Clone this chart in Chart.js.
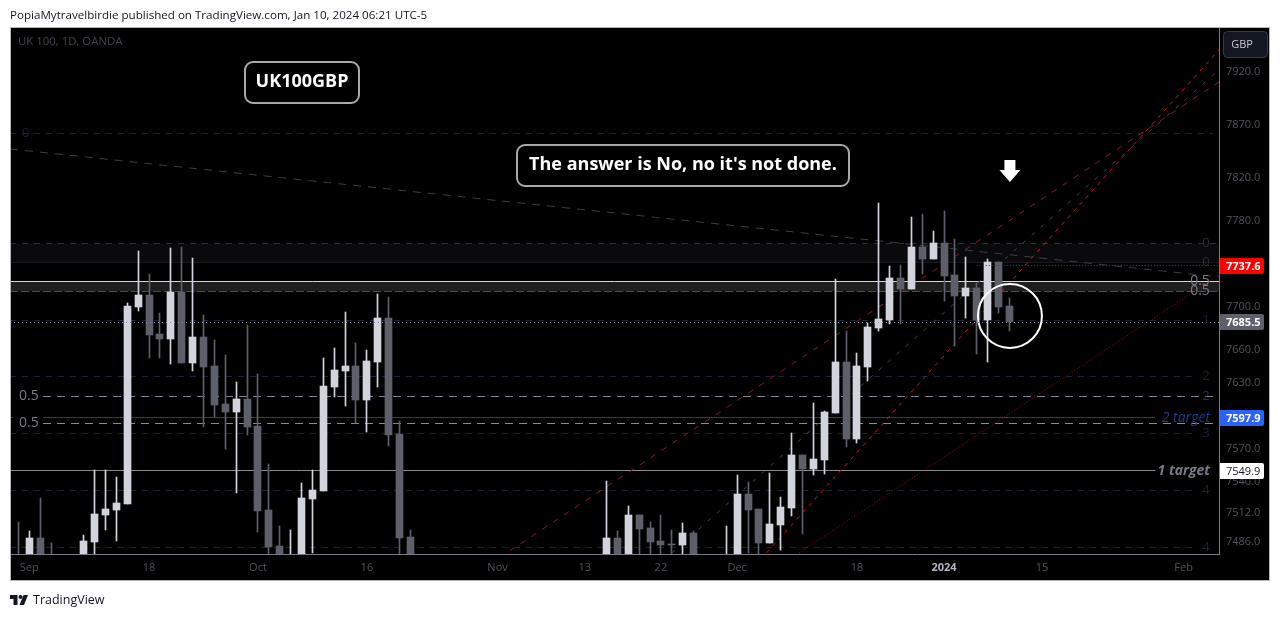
<!DOCTYPE html>
<html>
<head>
<meta charset="utf-8">
<title>UK100GBP</title>
<script src="https://cdn.jsdelivr.net/npm/chart.js@4/dist/chart.umd.js"></script>
<style>
  html, body { margin: 0; padding: 0; background: #fff; width: 1281px; height: 617px; overflow: hidden; }
  #myChart { position: absolute; left: 0; top: 0; }
  .kop { position: absolute; left: 10px; top: 7px; font: 11.6px "Open Sans", sans-serif; color: #131722; white-space: nowrap; }
  .voet { position: absolute; left: 10px; top: 591px; font: 12.5px "Open Sans", sans-serif; color: #131722; display: flex; align-items: center; gap: 5px; }
</style>
</head>
<body>
<canvas id="myChart" width="1281" height="617" style="width:1281px;height:617px"></canvas>
<div class="kop">PopiaMytravelbirdie published on TradingView.com, Jan 10, 2024 06:21 UTC-5</div>
<div class="voet">
  <svg width="18" height="10" viewBox="0 0 36 20"><path d="M0 0h15v20H7V8H0z M27 0h9l-8 20h-9z" fill="#131722"/><circle cx="21" cy="4" r="4" fill="#131722"/></svg>
  <span>TradingView</span>
</div>
<script>
// candles: only the days that are visible above the bottom of the chart
const dagen = [0,1,2,3,6,7,8,9,10,11,12,13,14,15,16,17,18,19,20,21,22,23,24,25,26,27,28,29,30,31,32,33,34,35,36,
  54,55,56,57,58,59,60,61,62,65,66,67,68,69,70,71,72,73,74,75,76,77,78,79,80,81,82,83,84,85,86,87,88,89,90,91];
const open = [7465,7465,7488.5,7465,7465,7485.2,7509.4,7513.9,7519.4,7699.1,7710.2,7674.2,7669.6,7712.9,7647.5,7671.4,7644.8,7610,7602.7,7614.6,7590,7513.9,7481.6,7460,7465,7523.9,7531.1,7625.6,7640.2,7644.8,7613.7,7648.5,7688.9,7582.7,7489.7,
  7465,7488.8,7465,7509.4,7497.8,7486.1,7483.4,7482.5,7493.2,7460,7465,7528.3,7514.8,7484.3,7500.5,7515.7,7563.6,7550.9,7559.1,7601.8,7648.5,7578.2,7643.9,7679.7,7687.1,7725.9,7715.7,7754.7,7743.5,7758.4,7728.7,7709.2,7716.6,7687.1,7740.7,7700];
const hoog = [7503.1,7495.1,7524.8,7484.3,7491.4,7550,7550,7543.7,7702.8,7751,7729.6,7693.5,7753.8,7754.7,7744.4,7691.7,7668.7,7654.9,7630.1,7682.5,7637.5,7555.5,7499.6,7496,7538.3,7550,7652.1,7661.3,7694.5,7665.9,7659.5,7711.1,7708.3,7594.5,7496,
  7540.1,7495.1,7517.5,7509.4,7503.1,7509.4,7496,7502.2,7495.1,7499.6,7545.5,7539.2,7514.8,7547.3,7525.6,7583.6,7563.6,7611,7603.6,7725,7676.9,7656.7,7684.3,7795.7,7737,7737.9,7782.6,7785.4,7769.6,7788.2,7762.1,7745.4,7721.3,7743.5,7740.7,7707.4];
const laag = [7455,7455,7455,7455,7455,7455,7496,7486.1,7519.4,7695.4,7652.1,7652.1,7646.6,7647.5,7640.2,7589.1,7598.2,7569,7529.3,7581.8,7494.2,7455,7455,7455,7455,7475.3,7531.1,7616.4,7608.2,7592.7,7584.5,7625.6,7571.8,7455,7455,
  7455,7455,7455,7455,7455,7455,7455,7455,7455,7455,7455,7475.3,7455,7484.3,7478,7508.5,7492.3,7545.5,7546.4,7601.8,7570.9,7574.5,7631,7676.9,7683.4,7683.4,7715.7,7729.6,7743.5,7704.6,7663.2,7688.9,7655.8,7648.5,7693.5,7676.9];
const slot = [7460,7488.5,7465,7460,7486.1,7510.3,7514.8,7520.3,7700,7710.2,7673.3,7669.6,7712.9,7647.5,7671.4,7643.9,7609.1,7602.7,7614.6,7589.1,7513,7480.7,7465,7465,7524.8,7532,7626.5,7641.1,7644.8,7613.7,7649.4,7688.9,7581.8,7488.8,7465,
  7488.8,7465,7509.4,7496.9,7485.2,7482.5,7482.8,7493.2,7465,7465,7528.3,7513.9,7484.3,7501.3,7516.6,7563.6,7550.9,7560,7602.7,7648.5,7578.2,7644.8,7680.6,7688,7725.9,7715.7,7754.7,7743.5,7758.4,7727.8,7709.2,7716.6,7687.1,7740.7,7699.1,7685.5];

// axes
const prijsTicks = [7486,7512,7540,7570,7630,7660,7700,7780,7820,7870,7920];
const tijdTicks = [1,12,22,32,44,52,59,66,77,85,94,107];
const tijdLabels = ["Sep","18","Oct","16","Nov","13","22","Dec","18","2024","15","Feb"];

// horizontal levels
const fibDonker = [7861.4,7687,7635.6,7583.6,7532,7480.7];
const fibDonkerLabels = ["0","1","2","3","4","4"];
const fibGrijs = [7617.3,7592.7];
const bandDonker = [7758.4,7740.7];
const bandLicht = [7723,7713.9];
const prijsNu = 7685.5;
const prijsRood = 7737.6;
const doelBlauw = 7597.9;
const doelWit = 7549.9;

// trend lines: [day, price] at both ends
const lijnRoodDonker = [[45.1,7477],[110.25,7909.6]];
const lijnRoodFel = [[68.7,7475.3],[110.25,7940]];
const lijnGrijs = [[60,7475.3],[110.25,7921]];
const lijnStip = [[71.7,7475.3],[110.25,7728.7]];
const lijnDalend = [[-0.77,7846.3],[110.25,7726.8]];
const cirkel = [91.05,7690.8];
const pijl = [91.05,7826.6];

const xMin = -0.772, xMax = 110.25;
const wit = "#d1d4dc", grijs = "#5d606b";

function horizontaal(prijs, van, tot, stijl) {
  return Object.assign({
    type: "line", data: [{x: van, y: prijs}, {x: tot, y: prijs}], pointRadius: 0,
    borderWidth: 1, order: 5, snap: true, fill: false
  }, stijl);
}
function schuin(punten, stijl) {
  return Object.assign({
    type: "line", data: punten.map(p => ({x: p[0], y: p[1]})), pointRadius: 0,
    borderWidth: 1, order: 4, fill: false
  }, stijl);
}

const kleuren = dagen.map((d, i) => slot[i] >= open[i] ? wit : grijs);

const datasets = [
  // wicks and bodies
  {data: dagen.map((d, i) => ({x: d, y: [laag[i], hoog[i]]})), backgroundColor: kleuren, barThickness: 1, grouped: false, order: 2, snapBar: true},
  {data: dagen.map((d, i) => ({x: d, y: [open[i], slot[i]]})), backgroundColor: kleuren, barThickness: 7, grouped: false, order: 1, snapBar: true},
  // bands
  horizontaal(bandDonker[0], xMin, xMax, {borderColor: "#2a2e39", borderDash: [6, 6], fill: "+1", backgroundColor: "#0a0a0c"}),
  horizontaal(bandDonker[1], xMin, xMax, {borderColor: "#262933"}),
  horizontaal(bandLicht[0], xMin, xMax, {borderColor: "#d1d4dc", fill: "+1", backgroundColor: "#1e1e1e"}),
  horizontaal(bandLicht[1], xMin, xMax, {borderColor: "#787b86", borderDash: [8, 3]}),
  // levels
  horizontaal(fibGrijs[0], 2.26, 109.7, {borderColor: "#7d8299", borderDash: [8, 6]}),
  horizontaal(fibGrijs[1], 2.26, 109.7, {borderColor: "#8a8a8a", borderDash: [8, 6]}),
  horizontaal(doelBlauw, xMin, 104.4, {borderColor: "#1e3a8a"}),
  horizontaal(doelWit, xMin, 104.4, {borderColor: "#8a8a8a"}),
  horizontaal(prijsRood, 88, xMax, {borderColor: "#ff0000", borderDash: [1, 2], order: 0}),
  horizontaal(prijsNu, xMin, xMax, {borderColor: "#8a8d96", borderDash: [1, 3], order: 0}),
  // trend lines
  schuin(lijnRoodDonker, {borderColor: "#8e1a1e", borderDash: [6, 7]}),
  schuin(lijnRoodFel, {borderColor: "#e50e14", borderDash: [4, 5]}),
  schuin(lijnGrijs, {borderColor: "#44464d", borderDash: [4, 8]}),
  schuin(lijnStip, {borderColor: "#a50a0f", borderDash: [1, 2]}),
  schuin(lijnDalend, {borderColor: "#3c3e45", borderDash: [8, 7]}),
  // circle round the last candle
  {type: "line", showLine: false, data: [{x: cirkel[0], y: cirkel[1]}], pointRadius: 32, pointBackgroundColor: "rgba(0,0,0,0)",
   pointBorderColor: "#ffffff", pointBorderWidth: 2, order: 0}
];
fibDonker.forEach((p, i) => {
  const einde = i === 0 ? 109.7 : 107.8;
  datasets.push(horizontaal(p, xMin, einde, {borderColor: "#1c2238", borderDash: [6, 6]}));
});

function box(ctx, x, y, w, h, r, vul, rand, lijn) {
  ctx.beginPath();
  ctx.roundRect(x, y, w, h, r);
  ctx.fillStyle = vul;
  ctx.fill();
  if (rand) { ctx.lineWidth = lijn; ctx.strokeStyle = rand; ctx.stroke(); }
}
function tekst(ctx, t, x, y, font, kleur, align) {
  ctx.font = font;
  ctx.fillStyle = kleur;
  ctx.textAlign = align || "left";
  ctx.textBaseline = "middle";
  ctx.fillText(t, x, y);
}

const achtergrond = {
  id: "achtergrond",
  beforeDraw(chart) {
    const ctx = chart.ctx;
    ctx.save();
    ctx.fillStyle = "#000";
    ctx.fillRect(10, 27, 1260, 554);
    ctx.restore();
  },
  // strepen scherp op hele pixels zetten
  beforeDatasetsDraw(chart) {
    chart.data.datasets.forEach((ds, i) => {
      const meta = chart.getDatasetMeta(i);
      if (ds.snapBar) {
        meta.data.forEach(b => { b.x = Math.floor(b.x) + 0.5; b.y = Math.round(b.y); b.base = Math.round(b.base); });
      }
      if (ds.snap) {
        meta.data.forEach(p => { p.y = Math.round(p.y) + 0.5; });
      }
    });
  }
};

const labels = {
  id: "labels",
  afterDraw(chart) {
    const ctx = chart.ctx, y = chart.scales.y, x = chart.scales.x;
    const sans = '"Open Sans", sans-serif';
    ctx.save();
    // frame
    ctx.strokeStyle = "#b2b5be";
    ctx.lineWidth = 1;
    ctx.strokeRect(10.5, 27.5, 1259, 553);

    tekst(ctx, "UK 100, 1D, OANDA", 18, 42, "11.4px " + sans, "#434651");

    // level labels
    tekst(ctx, "0", 22, y.getPixelForValue(fibDonker[0]), "13px " + sans, "#1c2238");
    ["0.5", "0.5"].forEach((t, i) => {
      const py = y.getPixelForValue(fibGrijs[i]);
      ctx.fillStyle = "#000";
      ctx.fillRect(13, py - 8, 30, 16);
      tekst(ctx, t, 19, py, "14px " + sans, "#787b86");
    });
    fibDonkerLabels.forEach((t, i) => {
      if (i === 0) return;
      tekst(ctx, t, 1206, y.getPixelForValue(fibDonker[i]), "13px " + sans, "#1c2238", "center");
    });
    tekst(ctx, "2", 1206, y.getPixelForValue(fibGrijs[0]), "13px " + sans, "#2a2e45", "center");
    bandDonker.forEach(p => tekst(ctx, "0", 1206, y.getPixelForValue(p), "13px " + sans, "#2a2e39", "center"));
    bandLicht.forEach(p => tekst(ctx, "0.5", 1200, y.getPixelForValue(p), "14px " + sans, "#787b86", "center"));
    tekst(ctx, "2 target", 1210, y.getPixelForValue(doelBlauw) + 1, "italic 14px " + sans, "#1e3a8a", "right");
    tekst(ctx, "1 target", 1210, y.getPixelForValue(doelWit) + 1, "italic bold 14px " + sans, "#787b86", "right");

    // callouts
    box(ctx, 245, 62, 114, 41, 8, "#000", "#a8a8a8", 2);
    tekst(ctx, "UK100GBP", 302, 82, "bold 18px " + sans, "#ffffff", "center");
    box(ctx, 517, 145, 332, 41, 8, "#000", "#a8a8a8", 2);
    tekst(ctx, "The answer is No, no it's not done.", 683, 165, "bold 18px " + sans, "#ffffff", "center");

    // arrow
    const ax = x.getPixelForValue(pijl[0]), ay = y.getPixelForValue(pijl[1]);
    ctx.fillStyle = "#ffffff";
    ctx.beginPath();
    ctx.moveTo(ax - 5.5, ay - 10);
    ctx.lineTo(ax + 5.5, ay - 10);
    ctx.lineTo(ax + 5.5, ay);
    ctx.lineTo(ax + 10.5, ay);
    ctx.lineTo(ax, ay + 12);
    ctx.lineTo(ax - 10.5, ay);
    ctx.lineTo(ax - 5.5, ay);
    ctx.closePath();
    ctx.fill();

    // price tags
    const tags = [[prijsRood, "#ff0000", "#ffffff"], [prijsNu, "#5d606b", "#ffffff"], [doelBlauw, "#2962ff", "#ffffff"], [doelWit, "#ffffff", "#131722"]];
    tags.forEach(t => {
      const py = Math.round(y.getPixelForValue(t[0]) + 0.5);
      box(ctx, 1220, py - 8, 44, 16, [0, 2, 2, 0], t[1]);
      tekst(ctx, t[0].toFixed(1), 1226, py + 0.5, (t[1] === "#ffffff" ? "" : "bold ") + "11px " + sans, t[2]);
    });

    // currency button
    box(ctx, 1223.5, 31.5, 44, 26, 4, "#131722", "#363a45", 1);
    tekst(ctx, "GBP", 1242, 44.5, "11px " + sans, "#c8cad0", "center");
    ctx.restore();
  }
};

new Chart(document.getElementById("myChart"), {
  type: "bar",
  data: {datasets: datasets},
  plugins: [achtergrond, labels],
  options: {
    responsive: false,
    animation: false,
    events: [],
    layout: {autoPadding: false, padding: {left: 10, top: 27, right: 11, bottom: 37}},
    plugins: {legend: {display: false}, tooltip: {enabled: false}},
    scales: {
      x: {
        type: "linear", offset: false, bounds: "data", min: xMin, max: xMax,
        grid: {display: false, drawTicks: false},
        border: {display: true, color: "#787b86"},
        afterBuildTicks(s) { s.ticks = tijdTicks.map(v => ({value: v})); },
        afterFit(s) { s.height = 26; s.paddingLeft = 0; s.paddingRight = 0; },
        ticks: {
          autoSkip: false, maxRotation: 0, padding: 7,
          callback: v => tijdLabels[tijdTicks.indexOf(v)],
          color: c => c.tick && c.tick.value === 85 ? "#b2b5be" : "#50535e",
          font: c => ({family: '"Open Sans", sans-serif', size: 11, weight: c.tick && c.tick.value === 85 ? "bold" : "normal"})
        }
      },
      y: {
        type: "logarithmic", position: "right", bounds: "data", min: 7474.3, max: 7961.9,
        grid: {display: false, drawTicks: false},
        border: {display: true, color: "#787b86"},
        afterBuildTicks(s) { s.ticks = prijsTicks.map(v => ({value: v})); },
        afterFit(s) { s.width = 51; s.paddingTop = 0; s.paddingBottom = 0; },
        ticks: {
          autoSkip: false, padding: 7, labelOffset: 1,
          callback: v => v.toFixed(1),
          color: "#50535e",
          font: {family: '"Open Sans", sans-serif', size: 11}
        }
      }
    }
  }
});
</script>
</body>
</html>
